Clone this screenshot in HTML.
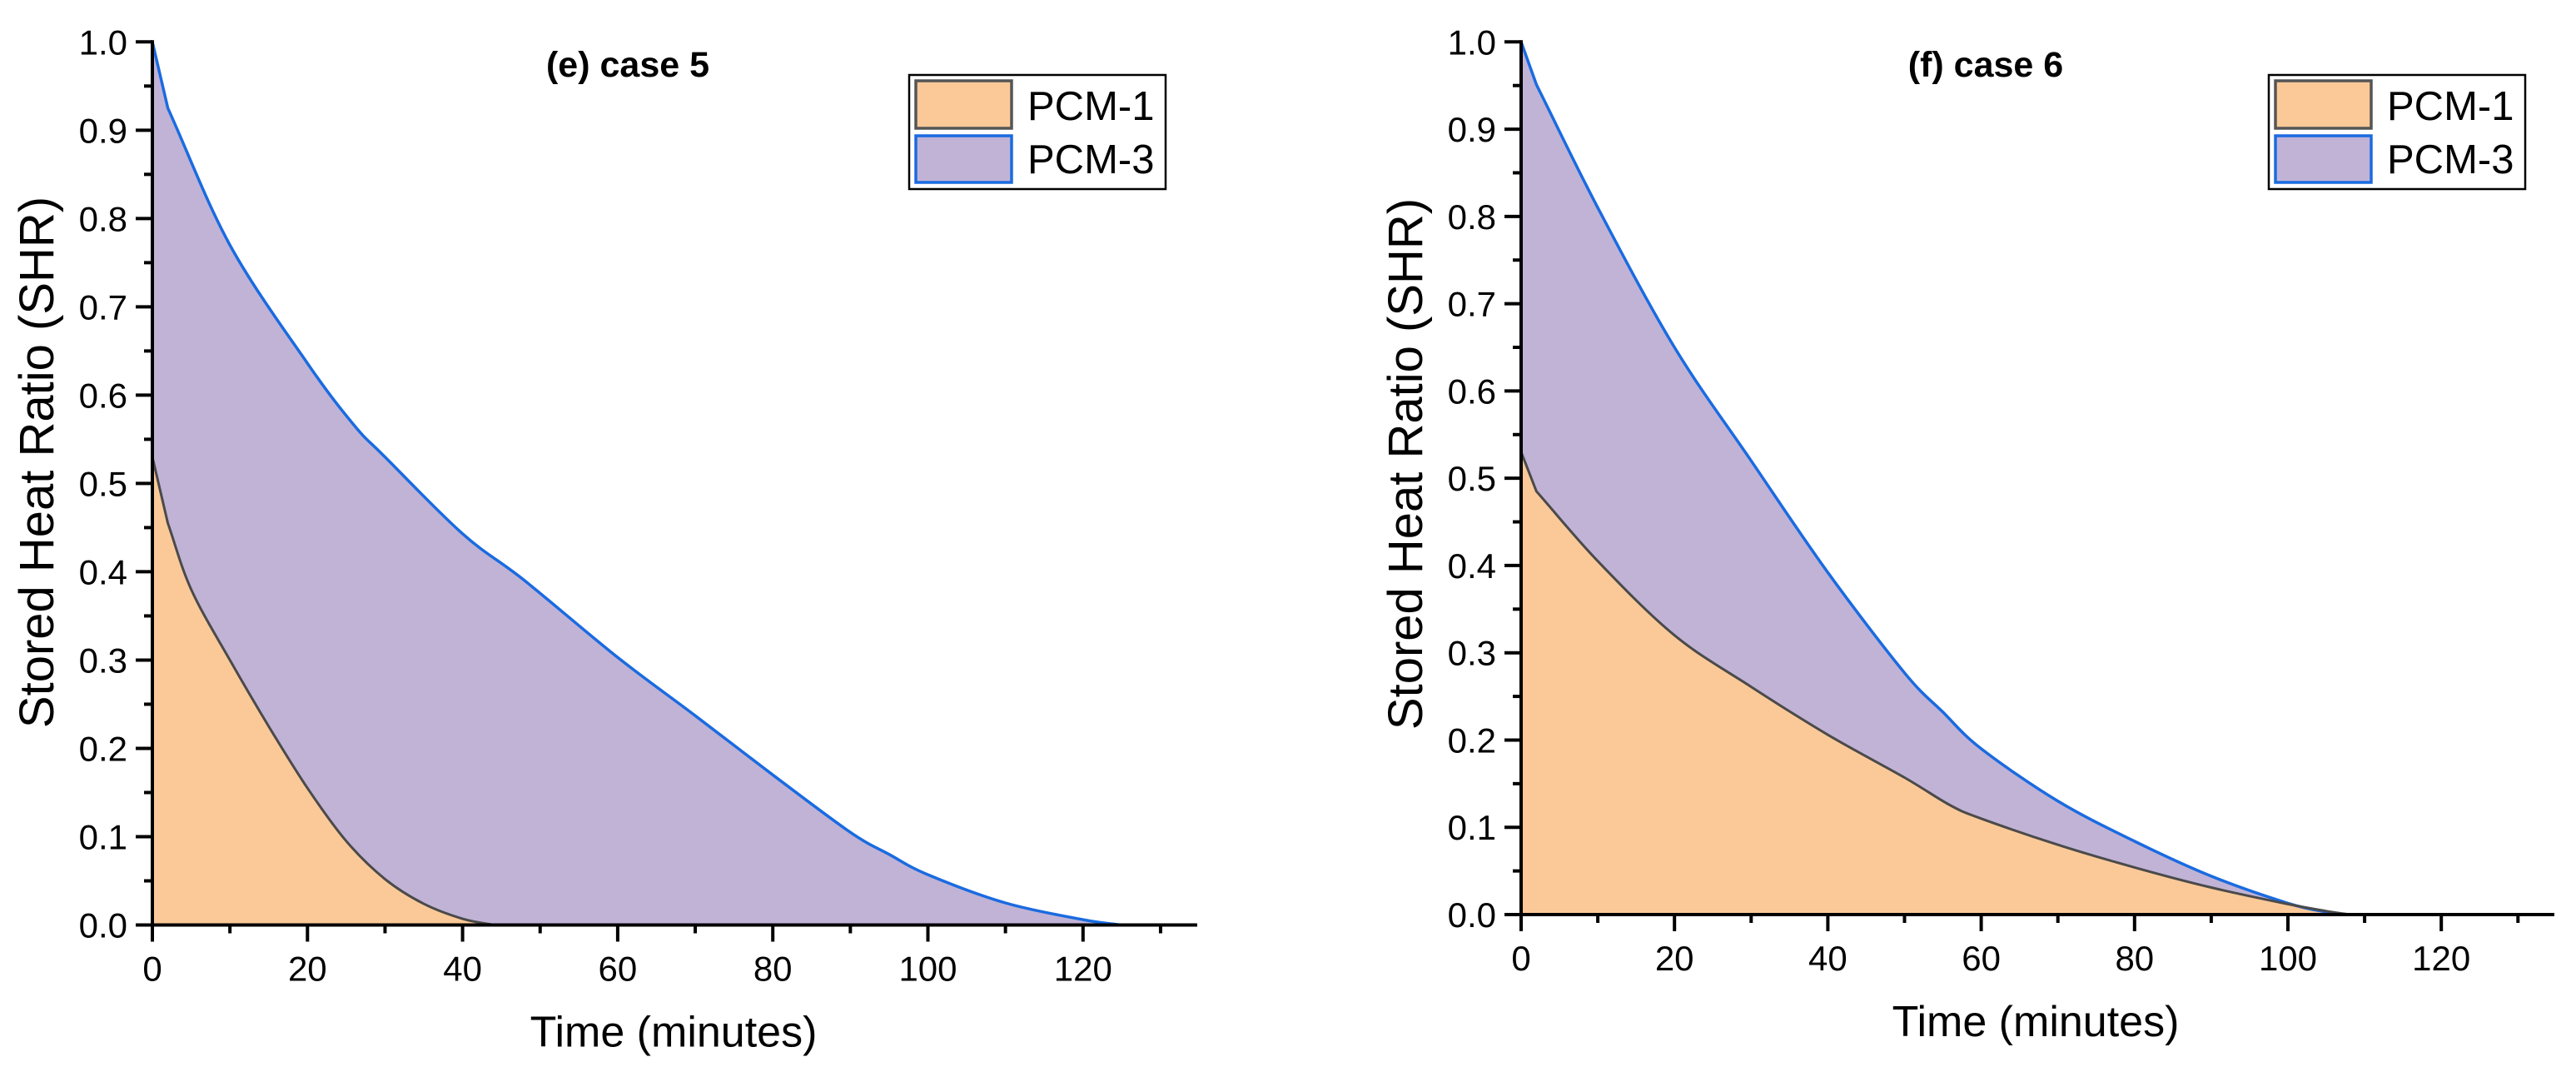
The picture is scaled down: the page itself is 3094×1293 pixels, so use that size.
<!DOCTYPE html>
<html><head><meta charset="utf-8"><style>
html,body{margin:0;padding:0;background:#fff}
svg{display:block}
text{font-family:"Liberation Sans",Arial,sans-serif;fill:#000}
</style></head><body>
<svg id="fig" width="3094" height="1293" viewBox="0 0 3094 1293" xmlns="http://www.w3.org/2000/svg"></svg>
<script>
// Panel (e) case 5
const timesE1 = [0, 2, 5, 10, 15, 20, 25, 30, 35, 40, 44];
const pcm1E = [0.53, 0.455, 0.38, 0.30, 0.225, 0.155, 0.095, 0.052, 0.024, 0.007, 0];
const timesE3 = [0, 2, 10, 20, 26, 30, 40, 48, 60, 70, 80, 90, 95, 100, 110, 120, 125];
const pcm3E = [1.0, 0.925, 0.77, 0.636, 0.566, 0.53, 0.443, 0.39, 0.303, 0.237, 0.17, 0.105, 0.08, 0.057, 0.025, 0.006, 0];
// Panel (f) case 6
const timesF1 = [0, 2, 10, 20, 30, 40, 50, 56, 60, 70, 80, 90, 100, 105, 108];
const pcm1F = [0.53, 0.485, 0.405, 0.32, 0.261, 0.206, 0.157, 0.125, 0.11, 0.08, 0.054, 0.031, 0.012, 0.004, 0];
const timesF3 = [0, 2, 10, 20, 30, 40, 50, 55, 60, 70, 80, 90, 100, 105, 108];
const pcm3F = [1.0, 0.951, 0.81, 0.65, 0.52, 0.392, 0.277, 0.232, 0.19, 0.13, 0.084, 0.044, 0.013, 0.003, 0];
const xTicks = [0, 20, 40, 60, 80, 100, 120];
const yTicks = [0.0, 0.1, 0.2, 0.3, 0.4, 0.5, 0.6, 0.7, 0.8, 0.9, 1.0];

const NS = "http://www.w3.org/2000/svg";
const svg = document.getElementById('fig');
function mk(tag, attrs, parent) {
  const e = document.createElementNS(NS, tag);
  for (const k in attrs) e.setAttribute(k, attrs[k]);
  (parent || svg).appendChild(e);
  return e;
}

function panel(cfg) {
  const g = mk('g', {});
  
  
  const X = t => cfg.x0 + t * cfg.pxMin;
  const Y = v => cfg.y0 - v * cfg.pxUnit;
  function curve(ts, vs) {
    const p = ts.map((t, i) => [X(t), Y(vs[i])]);
    let d = 'M' + p[0][0].toFixed(1) + ',' + p[0][1].toFixed(1) + ' L' + p[1][0].toFixed(1) + ',' + p[1][1].toFixed(1);
    for (let i = 1; i < p.length - 1; i++) {
      const p0 = i > 1 ? p[i - 1] : p[i], p1 = p[i], p2 = p[i + 1], p3 = p[i + 2] || p[i + 1];
      const k0 = i > 1 ? 6 : 3, k1 = p[i + 2] ? 6 : 3;
      let c1y = p1[1] + (p2[1] - p0[1]) / k0, c2y = p2[1] - (p3[1] - p1[1]) / k1;
      const c1x = p1[0] + (p2[0] - p0[0]) / k0, c2x = p2[0] - (p3[0] - p1[0]) / k1;
      c1y = Math.min(c1y, cfg.y0); c2y = Math.min(c2y, cfg.y0);
      d += ' C' + c1x.toFixed(1) + ',' + c1y.toFixed(1) + ' ' + c2x.toFixed(1) + ',' + c2y.toFixed(1) + ' ' + p2[0].toFixed(1) + ',' + p2[1].toFixed(1);
    }
    return d;
  }
  function areaPath(ts, vs) {
    return curve(ts, vs) + ' L' + X(ts[ts.length - 1]) + ',' + Y(0) + ' L' + X(ts[0]) + ',' + Y(0) + ' Z';
  }
  const a3 = mk('path', {d: areaPath(cfg.t3, cfg.v3), fill: '#C1B3D6'}, g);
  
  
  const a1 = mk('path', {d: areaPath(cfg.t1, cfg.v1), fill: '#FBC998'}, g);
  
  
  const l3 = mk('path', {d: curve(cfg.t3, cfg.v3), fill: 'none', stroke: '#1A6BE0', 'stroke-width': 3.5, 'stroke-linejoin': 'round'}, g);
  
  
  const l1 = mk('path', {d: curve(cfg.t1, cfg.v1), fill: 'none', stroke: '#4a4a4a', 'stroke-width': 3, 'stroke-linejoin': 'round'}, g);
  
  

  const ya = mk('line', {x1: cfg.x0, y1: Y(1) - 2, x2: cfg.x0, y2: cfg.y0 + 2, stroke: '#000', 'stroke-width': 4}, g);
  
  
  const xa = mk('line', {x1: cfg.x0 - 20, y1: cfg.y0, x2: cfg.xEnd, y2: cfg.y0, stroke: '#000', 'stroke-width': 4}, g);
  
  
  for (let i = 0; i < yTicks.length; i++) {
    const v = yTicks[i];
    mk('line', {x1: cfg.x0 - 20, y1: Y(v), x2: cfg.x0, y2: Y(v), stroke: '#000', 'stroke-width': 4}, g);
    if (i < yTicks.length - 1) mk('line', {x1: cfg.x0 - 10, y1: Y(v + 0.05), x2: cfg.x0, y2: Y(v + 0.05), stroke: '#000', 'stroke-width': 4}, g);
    const t = mk('text', {x: cfg.x0 - 30, y: Y(v) + 15, 'text-anchor': 'end', 'font-size': 42}, g);
    t.textContent = v.toFixed(1);
    
    
  }
  for (let i = 0; i < xTicks.length; i++) {
    const v = xTicks[i];
    mk('line', {x1: X(v), y1: cfg.y0, x2: X(v), y2: cfg.y0 + 20, stroke: '#000', 'stroke-width': 4}, g);
    mk('line', {x1: X(v + 10), y1: cfg.y0, x2: X(v + 10), y2: cfg.y0 + 10, stroke: '#000', 'stroke-width': 4}, g);
    const t = mk('text', {x: X(v), y: cfg.y0 + 67, 'text-anchor': 'middle', 'font-size': 42}, g);
    t.textContent = String(v);
    
    
  }
  const xt = mk('text', {x: cfg.xTitleX, y: cfg.y0 + 146, 'text-anchor': 'middle', 'font-size': 52}, g);
  xt.textContent = 'Time (minutes)';
  
  
  const yt = mk('text', {x: 0, y: 0, 'text-anchor': 'middle', 'font-size': 58, transform: 'translate(' + cfg.yTitleX + ',' + cfg.yTitleY + ') rotate(-90)'}, g);
  yt.textContent = 'Stored Heat Ratio (SHR)';
  
  
  const pt = mk('text', {x: cfg.titleX, y: 92, 'text-anchor': 'middle', 'font-size': 43, 'font-weight': 'bold'}, g);
  pt.textContent = cfg.title;
  
  

  const lg = mk('g', {}, g);
  
  
  const L = cfg.legX;
  mk('rect', {x: L, y: 90, width: 308, height: 137, fill: '#fff', stroke: '#000', 'stroke-width': 2.5}, lg);
  const s1 = mk('rect', {x: L + 8, y: 97, width: 115, height: 57, fill: '#FBC998', stroke: '#555', 'stroke-width': 3.5}, lg);
  
  
  const s2 = mk('rect', {x: L + 8, y: 163, width: 115, height: 56, fill: '#C1B3D6', stroke: '#1A6BE0', 'stroke-width': 3.5}, lg);
  
  
  const t1 = mk('text', {x: L + 142, y: 144, 'font-size': 49}, lg);
  t1.textContent = 'PCM-1';
  
  
  const t2 = mk('text', {x: L + 142, y: 208, 'font-size': 49}, lg);
  t2.textContent = 'PCM-3';
  
  
}

panel({id: 'case-5', x0: 183, y0: 1110.5, pxMin: 9.315, pxUnit: 1060.2, xEnd: 1438,
  t1: timesE1, v1: pcm1E, t3: timesE3, v3: pcm3E, title: '(e) case 5', titleX: 754,
  xTitleX: 809, yTitleX: 64, yTitleY: 555, legX: 1092});
panel({id: 'case-6', x0: 1827, y0: 1098, pxMin: 9.21, pxUnit: 1047.7, xEnd: 3068,
  t1: timesF1, v1: pcm1F, t3: timesF3, v3: pcm3F, title: '(f) case 6', titleX: 2385,
  xTitleX: 2445, yTitleX: 1708, yTitleY: 557, legX: 2725});
</script>
</body></html>
